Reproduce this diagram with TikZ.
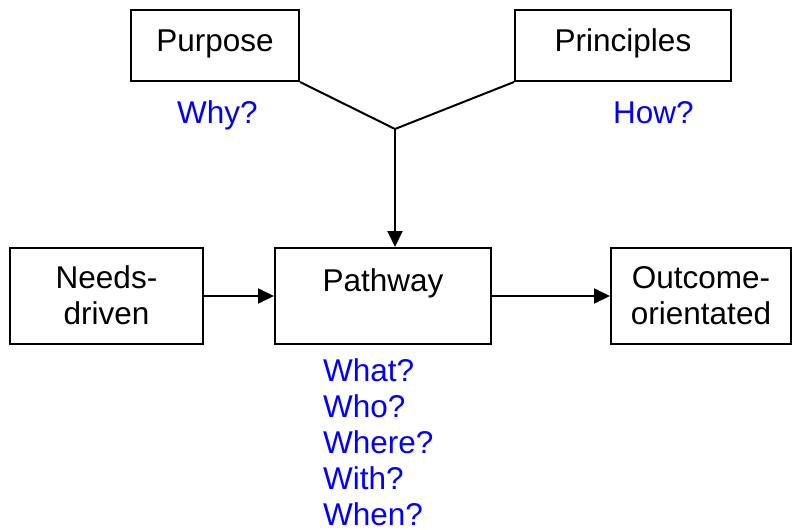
\documentclass[tikz,border=0pt]{standalone}
\usepackage{fontspec}
\setmainfont{Liberation Sans}
\usetikzlibrary{positioning,arrows.meta}

\begin{document}
\begin{tikzpicture}[x=1pt,y=-1pt,
            box/.style={draw,line width=2pt,inner sep=0pt,align=center,
                font=\fontsize{31.5}{36}\selectfont},
            ask/.style={text=blue,inner sep=0pt,anchor=base west,
                font=\fontsize{31.5}{36}\selectfont},
            arr/.style={line width=2pt,-{Triangle[length=16pt,width=15pt]}}]
            \useasboundingbox (0,0) rectangle (793,530);
            \node[box,minimum width=168pt,text height=41pt,text depth=30pt] (purpose) at (215,45.5) {Purpose};
            \node[box,minimum width=216pt,text height=41pt,text depth=30pt] (principles) at (623,45.5) {Principles};
            \node[ask] (why) at (177,123) {Why?};
            \node[ask] (how) at (613,123) {How?};
            \node[box,minimum width=193pt,text height=76pt,text depth=20pt] (needs) at (106.5,296) {Needs-\\driven};
            \node[box,minimum width=216pt,text height=43pt,text depth=53pt] (pathway) at (383,296) {Pathway};
            \node[box,minimum width=180pt,text height=76pt,text depth=20pt] (outcome) at (701,296) {Outcome-\\orientated};
            \coordinate (join) at (395,129);
            \draw[line width=2pt] (purpose.south east) -- (join) -- (principles.south west);
            \draw[arr] (join) -- (join |- pathway.north);
            \draw[arr] (needs) -- (pathway);
            \draw[arr] (pathway) -- (outcome);
            \foreach \q [count=\i] in {What?,Who?,Where?,With?,When?}
                \node[ask] (q\i) at (323,345+36*\i) {\q};
        \end{tikzpicture}
\end{document}
